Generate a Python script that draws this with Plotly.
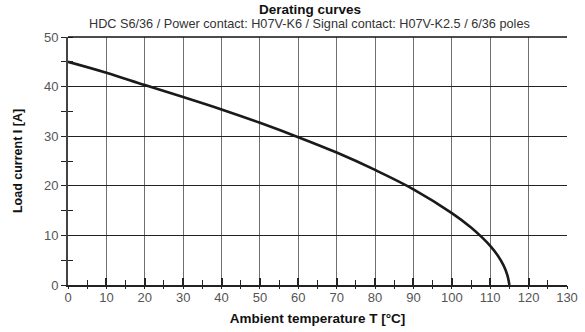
import plotly.graph_objects as go

# Derating curve: ambient temperature (°C) vs. permissible load current (A)
temperature = [0, 10, 20, 30, 40, 50, 60, 70, 80, 90, 100, 105, 108, 110, 112, 113.5, 114.5, 115]
load_current = [45, 42.8, 40.3, 37.9, 35.4, 32.7, 29.8, 26.7, 23.2, 19.3, 14.5, 11.6, 9.5, 7.9, 5.9, 3.9, 1.9, 0]

x_ticks = list(range(0, 131, 10))
y_ticks = list(range(0, 51, 10))

title = "Derating curves"
subtitle = "HDC S6/36 / Power contact: H07V-K6 / Signal contact: H07V-K2.5 / 6/36 poles"
x_title = "Ambient temperature T [°C]"
y_title = "Load current I [A]"

FONT = "Liberation Sans, Arial, sans-serif"
TICK_COLOR = "#555555"

fig = go.Figure()
fig.add_trace(go.Scatter(
    x=temperature, y=load_current, mode="lines",
    line=dict(color="#1a1a1a", width=2.6, shape="spline", smoothing=1.0),
    hoverinfo="skip", showlegend=False,
))
# empty trace that keeps the secondary tick axes alive
fig.add_trace(go.Scatter(x=[], y=[], xaxis="x2", yaxis="y2", showlegend=False))

fig.update_layout(
    width=585, height=332,
    margin=dict(l=68, r=18, t=37, b=47),
    paper_bgcolor="white", plot_bgcolor="white",
    font=dict(family=FONT, color="#222"),
    xaxis=dict(
        range=[0, 130], tickvals=x_ticks, ticks="inside", ticklen=7, tickwidth=1.5,
        tickcolor="#222", automargin=False,
        minor=dict(ticks="inside", dtick=5, tick0=0, ticklen=5, tickwidth=1, tickcolor="#222", showgrid=False),
        showgrid=True, gridcolor="#707070", gridwidth=1.2,
        showline=True, linecolor="#222", linewidth=1.5, mirror=False,
        zeroline=False,
        tickfont=dict(size=13, color=TICK_COLOR, family=FONT),
        title=dict(text="<b>" + x_title + "</b>", font=dict(size=13.5, color="#111"), standoff=9),
    ),
    yaxis=dict(
        range=[0, 50], tickvals=y_ticks, ticks="outside", ticklen=5, tickwidth=1.2,
        tickcolor="#222", automargin=False,
        minor=dict(ticks="outside", dtick=5, tick0=0, ticklen=5, tickwidth=1, tickcolor="#222", showgrid=False),
        showgrid=True, gridcolor="#222", gridwidth=1,
        showline=True, linecolor="#444", linewidth=1.8,
        zeroline=False,
        tickfont=dict(size=13, color=TICK_COLOR, family=FONT),
        title=dict(text="<b>" + y_title + "</b>", font=dict(size=12.5, color="#111"), standoff=19),
    ),
    xaxis2=dict(
        overlaying="x", anchor="y", range=[0, 130], showgrid=False, zeroline=False,
        showticklabels=False, tickvals=[], ticks="", automargin=False,
        minor=dict(ticks="outside", dtick=5, tick0=5, ticklen=3, tickwidth=1, tickcolor="#222"),
    ),
    yaxis2=dict(
        overlaying="y", anchor="x", range=[0, 50], showgrid=False, zeroline=False,
        showticklabels=False, tickvals=[], ticks="", automargin=False,
        minor=dict(ticks="inside", dtick=5, tick0=5, ticklen=5, tickwidth=1, tickcolor="#222"),
    ),
    shapes=[
        dict(type="line", xref="paper", yref="paper", x0=0, x1=1, y0=1, y1=1,
             line=dict(color="#111", width=1.5)),
    ],
    annotations=[
        dict(text="<b>" + title + "</b>", xref="paper", yref="paper", x=0.484, y=1,
             yshift=28, xanchor="center", yanchor="middle", showarrow=False,
             font=dict(size=13.5, color="#111", family=FONT)),
        dict(text=subtitle, xref="paper", yref="paper", x=0.484, y=1,
             yshift=13, xanchor="center", yanchor="middle", showarrow=False,
             font=dict(size=12.7, color="#333", family=FONT)),
    ],
)

fig.write_html("out.html")
